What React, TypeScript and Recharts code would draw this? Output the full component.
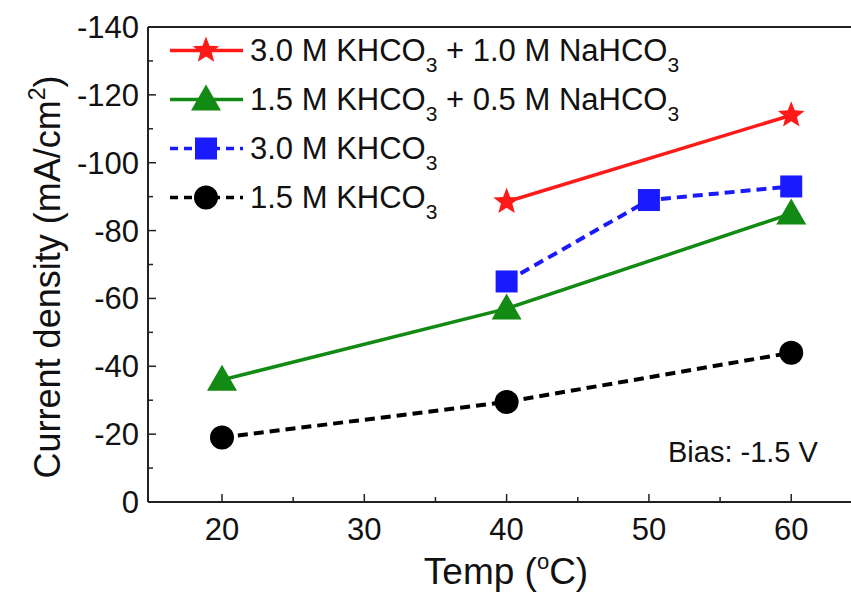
import React from "react";
import { LineChart, Line, XAxis, YAxis, Legend, Label, ReferenceLine } from "recharts";

const temps = [20, 40, 50, 60];
const mixHigh = [null, -88.5, null, -114];
const mixLow = [-36, -57, null, -85];
const khHigh = [null, -65, -89, -93];
const khLow = [-19, -29.5, null, -44];

const xTicks = [20, 25, 30, 35, 40, 45, 50, 55, 60];
const yTicks = [0, -10, -20, -30, -40, -50, -60, -70, -80, -90, -100, -110, -120, -130, -140];

const data = temps.map((t, i) => ({
  t,
  mixHigh: mixHigh[i],
  mixLow: mixLow[i],
  khHigh: khHigh[i],
  khLow: khLow[i],
}));

const FONT = "'Liberation Sans', Arial, sans-serif";
const AXIS = "#222";

const series = [
  { key: "mixHigh", a: "3.0 M KHCO", b: " + 1.0 M NaHCO", color: "#ff1a1a", shape: "star", dash: undefined },
  { key: "mixLow", a: "1.5 M KHCO", b: " + 0.5 M NaHCO", color: "#138a13", shape: "triangle", dash: undefined },
  { key: "khHigh", a: "3.0 M KHCO", b: null, color: "#1a1aff", shape: "square", dash: "10 6" },
  { key: "khLow", a: "1.5 M KHCO", b: null, color: "#000", shape: "circle", dash: "10 6" },
];

const marker = (shape: string, cx: number, cy: number, color: string, key?: any) => {
  if (shape === "star") {
    const pts = [];
    for (let k = 0; k < 10; k++) {
      const r = k % 2 === 0 ? 14 : 6;
      const ang = -Math.PI / 2 + (k * Math.PI) / 5;
      pts.push(`${cx + r * Math.cos(ang)},${cy + r * Math.sin(ang)}`);
    }
    return <polygon key={key} points={pts.join(" ")} fill={color} />;
  }
  if (shape === "triangle") {
    return <polygon key={key} points={`${cx},${cy - 15} ${cx + 15},${cy + 11} ${cx - 15},${cy + 11}`} fill={color} />;
  }
  if (shape === "square") {
    return <rect key={key} x={cx - 11} y={cy - 11} width={22} height={22} fill={color} />;
  }
  return <circle key={key} cx={cx} cy={cy} r={12} fill={color} />;
};

const YTick = (props: any) => {
  const { x, y, payload } = props;
  const major = payload.value % 20 === 0;
  return (
    <g>
      <line x1={x} x2={x + (major ? 8 : 5)} y1={y} y2={y} stroke={AXIS} strokeWidth={1.5} />
      {major && (
        <text x={x - 9} y={y + 11} textAnchor="end" fontSize={31} fontFamily={FONT} fill="#111">
          {payload.value}
        </text>
      )}
    </g>
  );
};

const XTick = (props: any) => {
  const { x, y, payload } = props;
  const major = payload.value % 10 === 0;
  return (
    <g>
      <line x1={x} x2={x} y1={y} y2={y - (major ? 8 : 5)} stroke={AXIS} strokeWidth={1.5} />
      {major && (
        <text x={x} y={y + 38} textAnchor="middle" fontSize={31} fontFamily={FONT} fill="#111">
          {payload.value}
        </text>
      )}
    </g>
  );
};

const LegendBox = () => (
  <div style={{ fontFamily: FONT, fontSize: 31, color: "#111" }}>
    {series.map((s) => (
      <div key={s.key} style={{ display: "flex", alignItems: "center", height: 49, whiteSpace: "nowrap" }}>
        <svg width={83} height={49}>
          <line x1={3} x2={76} y1={24.5} y2={24.5} stroke={s.color} strokeWidth={3.5} strokeDasharray={s.dash ? "8 6" : undefined} />
          {marker(s.shape, 39, 24.5, s.color)}
        </svg>
        <span style={{ lineHeight: "49px" }}>
          {s.a}
          <span style={{ fontSize: 21, verticalAlign: -11, lineHeight: 0 }}>3</span>
          {s.b && (
            <>
              {s.b}
              <span style={{ fontSize: 21, verticalAlign: -11, lineHeight: 0 }}>3</span>
            </>
          )}
        </span>
      </div>
    ))}
  </div>
);

export default function App() {
  return (
    <div style={{ position: "fixed", left: 0, top: 0, width: 851, height: 594, background: "#fff" }}>
      <LineChart width={851} height={594} data={data} margin={{ top: 27, right: 0, bottom: 0, left: 0 }}>
        <XAxis
          dataKey="t"
          type="number"
          domain={[14.8, 64.2]}
          allowDataOverflow
          ticks={xTicks}
          interval={0}
          tickSize={0}
          tickMargin={0}
          tickLine={false}
          tick={<XTick />}
          height={92}
          axisLine={{ stroke: AXIS, strokeWidth: 2 }}
        >
          <Label
            content={() => (
              <text x={506} y={584} textAnchor="middle" fontSize={37} fontFamily={FONT} fill="#111">
                Temp (<tspan fontSize={22} dy={-15}>o</tspan>
                <tspan dy={15}>C)</tspan>
              </text>
            )}
          />
          <Label
            content={() => (
              <text x={668} y={462} fontSize={29} fontFamily={FONT} fill="#111">
                Bias: -1.5 V
              </text>
            )}
          />
        </XAxis>
        <YAxis
          type="number"
          domain={[-140, 0]}
          reversed
          ticks={yTicks}
          interval={0}
          tickSize={0}
          tickMargin={0}
          tickLine={false}
          tick={<YTick />}
          width={148}
          axisLine={{ stroke: AXIS, strokeWidth: 2 }}
        >
          <Label
            content={() => (
              <text
                x={60}
                y={277}
                textAnchor="middle"
                fontSize={36}
                fontFamily={FONT}
                fill="#111"
                transform="rotate(-90, 60, 277)"
              >
                Current density (mA/cm<tspan fontSize={23} dy={-15}>2</tspan>
                <tspan dy={15}>)</tspan>
              </text>
            )}
          />
        </YAxis>
        <ReferenceLine y={-140} stroke={AXIS} strokeWidth={2} />
        <Legend
          layout="vertical"
          align="center"
          verticalAlign="middle"
          wrapperStyle={{ left: 167, top: 26, width: "auto" }}
          content={() => <LegendBox />}
        />
        {series.map((s) => (
          <Line
            key={s.key}
            dataKey={s.key}
            type="linear"
            stroke={s.color}
            strokeWidth={s.dash ? 4 : 3.5}
            strokeDasharray={s.dash}
            connectNulls
            isAnimationActive={false}
            activeDot={false}
            dot={(p: any) =>
              p.cx == null || p.cy == null || p.value == null ? (
                <g key={p.index} />
              ) : (
                marker(s.shape, p.cx, p.cy, s.color, p.index)
              )
            }
          />
        ))}
      </LineChart>
    </div>
  );
}
